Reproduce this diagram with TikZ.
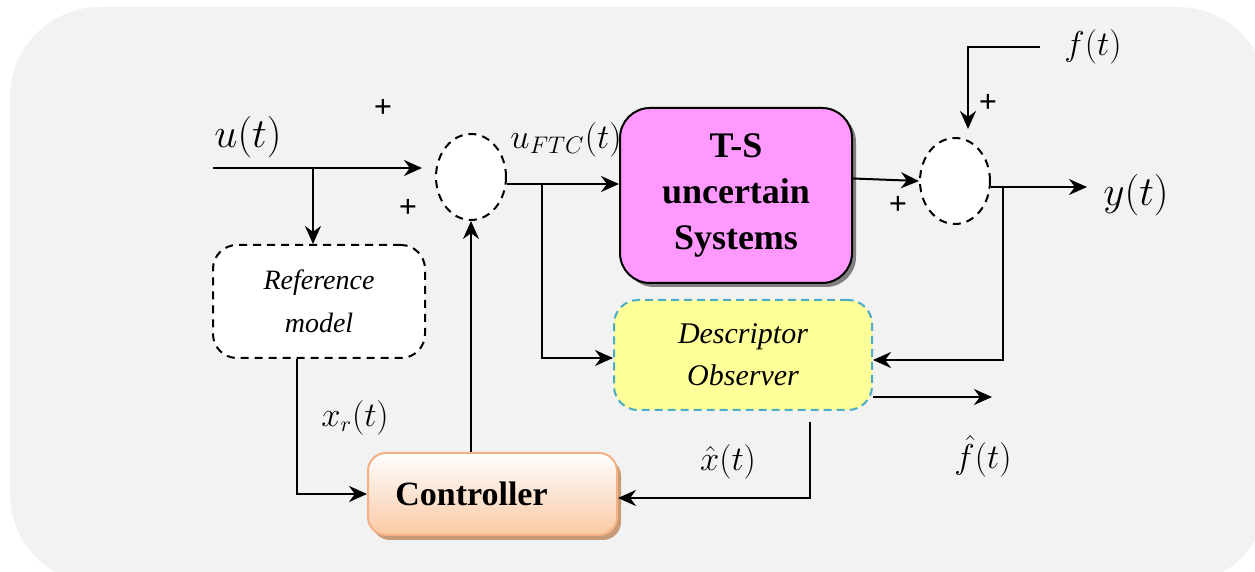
\documentclass[tikz,border=0pt]{standalone}
\usepackage{fontspec}
\setmainfont{Liberation Serif}
\usepackage{amsmath}
\usepackage{xcolor}
\usepackage{tikz}
\usetikzlibrary{arrows.meta,shapes.geometric,shadows}
\definecolor{bggray}{HTML}{F2F2F2}
\definecolor{tsfill}{HTML}{FF99FF}
\definecolor{obsfill}{HTML}{FFFF99}
\definecolor{obsline}{HTML}{4BACC6}
\definecolor{ctrlline}{HTML}{F4B183}
\definecolor{ctrlfill}{HTML}{F9C9A4}
\definecolor{ctrlshadow}{HTML}{C89B78}

\begin{document}
\begin{tikzpicture}[
      x=0.5pt, y=-0.5pt,
      line width=1pt,
      arr/.style={-{Stealth[length=9pt,width=8pt]}},
      sumnode/.style={ellipse, draw, fill=white, dash pattern=on 4pt off 3pt,
        minimum width=35pt, minimum height=43pt, inner sep=0pt},
      plus/.style={font=\fontsize{16}{16}\selectfont\bfseries},
      lbl/.style={font=\fontsize{16}{18}\selectfont},
      biglbl/.style={font=\fontsize{20}{22}\selectfont},
      tsbox/.style={draw, fill=tsfill, rounded corners=15pt, align=center,
        minimum width=116pt, minimum height=87.5pt,
        font=\fontsize{18}{23}\selectfont\bfseries,
        drop shadow={shadow xshift=2pt, shadow yshift=-2pt, fill=gray, opacity=1}},
      obsbox/.style={draw=obsline, fill=obsfill, dash pattern=on 4pt off 2.5pt,
        rounded corners=12pt, align=center, minimum width=129pt, minimum height=55pt,
        font=\fontsize{15}{21}\selectfont\itshape},
      refbox/.style={draw, fill=white, dash pattern=on 4pt off 3pt,
        rounded corners=12pt, align=center, minimum width=106pt, minimum height=56.5pt,
        font=\fontsize{14}{21.5}\selectfont\itshape},
      ctrlbox/.style={draw=ctrlline, top color=white, bottom color=ctrlfill,
        rounded corners=9pt, minimum width=124.5pt, minimum height=41pt,
        font=\fontsize{17}{20}\selectfont\bfseries,
        drop shadow={shadow xshift=2pt, shadow yshift=-2.5pt, fill=ctrlshadow, opacity=1}}
    ]
    \useasboundingbox (0,0) rectangle (1255,572);
    \fill[bggray, rounded corners=45pt] (10,7) rectangle (1268,584);

    \node[sumnode] (sum1) at (471,177) {};
    \node[sumnode] (sum2) at (955,181) {};
    \node[tsbox] (ts) at (736,195.5) {T-S\\uncertain\\Systems};
    \node[obsbox] (obs) at (743,355) {Descriptor\\Observer};
    \node[refbox] (ref) at (319,301.5) {Reference\\model};
    \node[ctrlbox] (ctrl) at (492.5,494) {Controller\rule{21pt}{0pt}};

    \coordinate (uin) at (213,168);
    \coordinate (br1) at (313,168);
    \coordinate (br2) at (542,184);
    \coordinate (br3) at (1003,187);
    \coordinate (fin) at (1040,47);
    \coordinate (fcorner) at (968,47);
    \coordinate (yout) at (1087,187);
    \coordinate (fhout) at (992,397);
    \coordinate (xh) at (810,422);

    \draw[arr, shorten >=6.5pt] (uin) -- (uin -| sum1.west);
    \draw[arr] (br1) -- (br1 |- ref.north);
    \draw[arr] (sum1.south |- ctrl.north) -- (sum1.south);
    \draw[arr] ([yshift=-3.5pt]sum1.east) -- ([yshift=-3.5pt]sum1.east -| ts.west);
    \draw[arr] (br2) |- ([yshift=-1.5pt]obs.west);
    \draw[arr] ([yshift=8.5pt]ts.east) -- (sum2.west);
    \draw[arr, shorten >=4pt] (fin) -- (fcorner) -- (fcorner |- sum2.north);
    \draw[arr] ([yshift=-3pt]sum2.east) -- (yout);
    \draw[arr] (br3) |- ([yshift=-2.5pt]obs.east);
    \draw[arr] ([yshift=-21pt]obs.east) -- (fhout);
    \draw[arr] (xh) |- ([yshift=-2pt]ctrl.east);
    \draw[arr] ([xshift=-11pt]ref.south) |- (ctrl.west);

    \node[biglbl] (lu) at (248,137) {$u(t)$};
    \node[lbl, font=\fontsize{18}{20}\selectfont] (luftc) at (566,140) {$u_{FTC}(t)$};
    \node[lbl] (lf) at (1093,47) {$f(t)$};
    \node[biglbl] (ly) at (1136,195) {$y(t)$};
    \node[lbl, font=\fontsize{19}{21}\selectfont] (lfh) at (983,456) {$\hat{f}(t)$};
    \node[lbl] (lxh) at (728,462) {$\hat{x}(t)$};
    \node[lbl] (lxr) at (355,418) {$x_r(t)$};

    \node[plus] (p1) at (383,108) {+};
    \node[plus] (p2) at (408,208) {+};
    \node[plus] (p3) at (898,205) {+};
    \node[plus] (p4) at (988,103) {+};
\end{tikzpicture}
\end{document}
